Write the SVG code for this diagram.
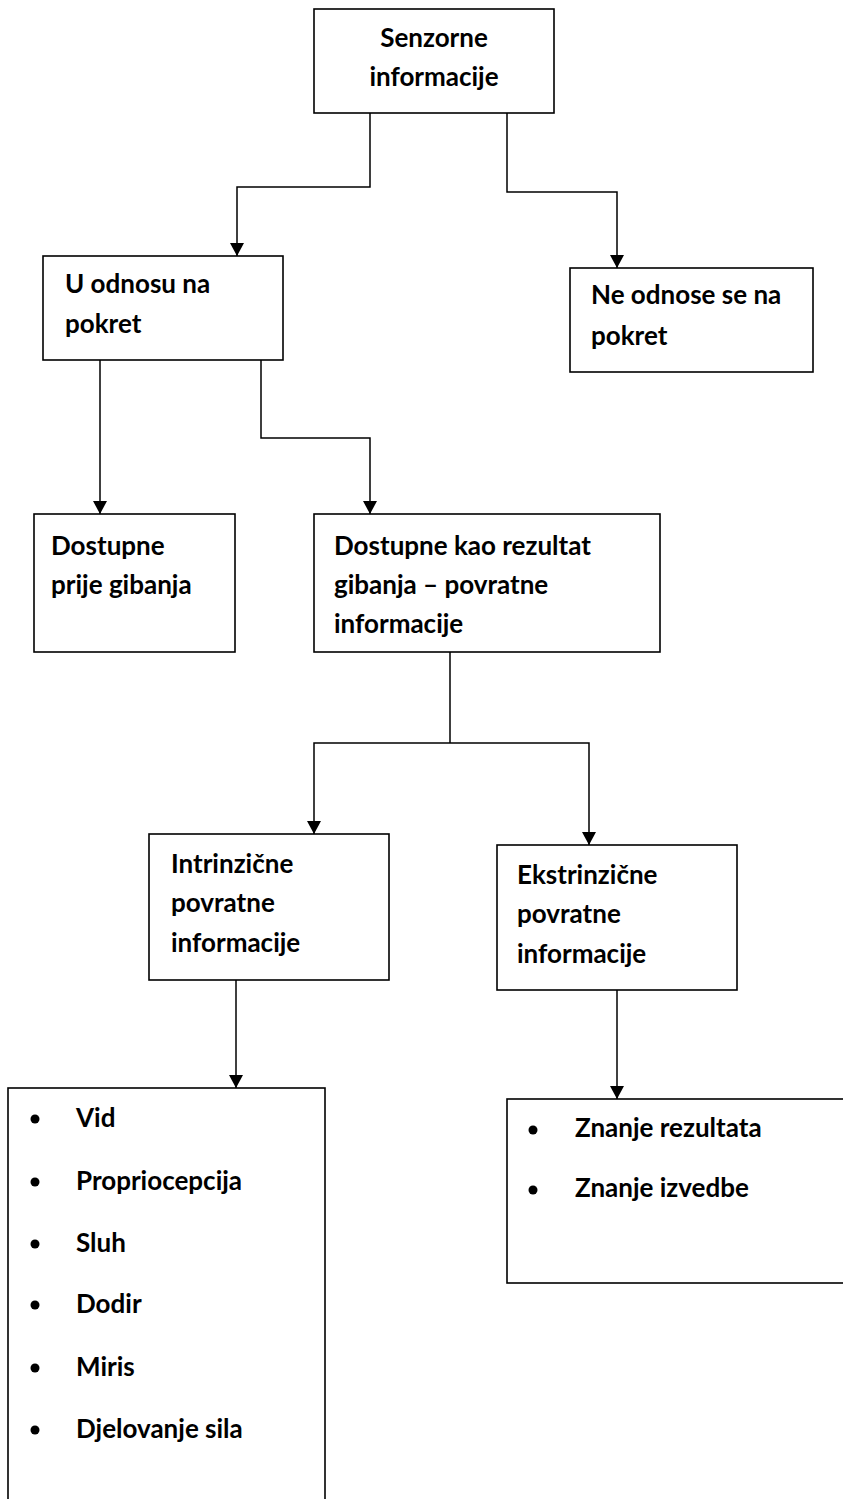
<svg xmlns="http://www.w3.org/2000/svg" width="843" height="1499" viewBox="0 0 843 1499">
<defs>
<marker id="arr" viewBox="0 0 13 14" refX="13" refY="7" markerWidth="13" markerHeight="14" markerUnits="userSpaceOnUse" orient="auto">
<path d="M0,0 L13,7 L0,14 z" fill="#000"/>
</marker>
<style>
.box{fill:#fff;stroke:#000;stroke-width:1.6}
.t{font-family:Lato,"Open Sans",sans-serif;font-weight:bold;font-size:26px;fill:#000}
.c{text-anchor:middle}
.ln{fill:none;stroke:#000;stroke-width:1.5}
.a{marker-end:url(#arr)}
</style>
</defs>
<rect width="843" height="1499" fill="#fff"/>
<g id="connectors">
<path class="ln a" d="M370,113 V187 H237 V256"/>
<path class="ln a" d="M507,113 V192 H617 V268"/>
<path class="ln a" d="M100,360 V514"/>
<path class="ln a" d="M261,360 V438 H370 V514"/>
<path class="ln" d="M450,650 V743"/>
<path class="ln a" d="M450,743 H314 V834"/>
<path class="ln a" d="M450,743 H589 V845"/>
<path class="ln a" d="M236,980 V1088"/>
<path class="ln a" d="M617,988 V1099"/>
</g>
<g id="n-senzorne">
<rect class="box" x="314" y="9" width="240" height="104"/>
<text class="t c" x="434" y="47">Senzorne</text>
<text class="t c" x="434" y="86">informacije</text>
</g>
<g id="n-odnosu">
<rect class="box" x="43" y="256" width="240" height="104"/>
<text class="t" x="65" y="293">U odnosu na</text>
<text class="t" x="65" y="333">pokret</text>
</g>
<g id="n-ne-odnose">
<rect class="box" x="570" y="268" width="243" height="104"/>
<text class="t" x="591" y="304">Ne odnose se na</text>
<text class="t" x="591" y="345">pokret</text>
</g>
<g id="n-prije">
<rect class="box" x="34" y="514" width="201" height="138"/>
<text class="t" x="51" y="555">Dostupne</text>
<text class="t" x="51" y="594">prije gibanja</text>
</g>
<g id="n-rezultat">
<rect class="box" x="314" y="514" width="346" height="138"/>
<text class="t" x="334" y="555">Dostupne kao rezultat</text>
<text class="t" x="334" y="594">gibanja – povratne</text>
<text class="t" x="334" y="633">informacije</text>
</g>
<g id="n-intrinzicne">
<rect class="box" x="149" y="834" width="240" height="146"/>
<text class="t" x="171" y="873">Intrinzične</text>
<text class="t" x="171" y="912">povratne</text>
<text class="t" x="171" y="952">informacije</text>
</g>
<g id="n-ekstrinzicne">
<rect class="box" x="497" y="845" width="240" height="145"/>
<text class="t" x="517" y="884">Ekstrinzične</text>
<text class="t" x="517" y="923">povratne</text>
<text class="t" x="517" y="963">informacije</text>
</g>
<g id="n-list-intr">
<rect class="box" x="8" y="1088" width="317" height="430"/>
<circle cx="35" cy="1119" r="4.5"/><text class="t" x="76" y="1127">Vid</text>
<circle cx="35" cy="1182" r="4.5"/><text class="t" x="76" y="1190">Propriocepcija</text>
<circle cx="35" cy="1244" r="4.5"/><text class="t" x="76" y="1252">Sluh</text>
<circle cx="35" cy="1305" r="4.5"/><text class="t" x="76" y="1313">Dodir</text>
<circle cx="35" cy="1368" r="4.5"/><text class="t" x="76" y="1376">Miris</text>
<circle cx="35" cy="1430" r="4.5"/><text class="t" x="76" y="1438">Djelovanje sila</text>
</g>
<g id="n-list-ekstr">
<rect class="box" x="507" y="1099" width="345" height="184"/>
<circle cx="533" cy="1130" r="4.5"/><text class="t" x="575" y="1137">Znanje rezultata</text>
<circle cx="533" cy="1190" r="4.5"/><text class="t" x="575" y="1197">Znanje izvedbe</text>
</g>
</svg>
